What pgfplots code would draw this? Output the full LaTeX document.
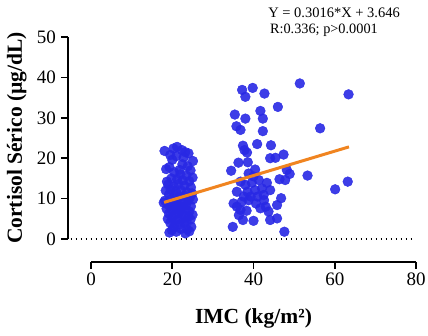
\documentclass[border=0pt]{standalone}
\usepackage{pgfplots}
\pgfplotsset{compat=1.18}
\usepackage{fontspec}
\setmainfont{Liberation Serif}
\definecolor{dotblue}{RGB}{40,40,228}
\definecolor{lineorange}{RGB}{240,132,32}
\begin{document}
\begin{tikzpicture}
\begin{axis}[
  name=main,
  at={(0,0)}, anchor=south west,
  set layers,
  scale only axis, width=348pt, height=202pt,
  xmin=-5.66, xmax=80, ymin=0, ymax=50,
  axis y line=left, axis x line=none,
  axis line style={line width=1.6pt,-},
  ytick={0,10,20,30,40,50},
  tick style={line width=1.6pt,black},
  major tick length=7pt, tick align=outside,
  yticklabel style={font=\fontsize{19}{19}\selectfont, xshift=-1.5pt},
  /pgf/number format/assume math mode=true,
  ylabel={\textbf{Cortisol Sérico (µg/dL)}},
  every axis y label/.style={at={(axis description cs:-0.147,0.5)}, rotate=90, anchor=center, font=\fontsize{21.5}{22}\selectfont},
  clip=false,
]
\addplot[black, line width=1.3pt, dash pattern=on 1.3pt off 3.7pt] coordinates {(-5.0,0) (79,0)};
\addplot[only marks, mark=*, mark size=4.9pt, color=dotblue, mark options={draw=dotblue, fill=dotblue, fill opacity=0.9, draw opacity=0.9}] coordinates {
(18.1,21.8) (20.3,22.4) (21.2,22.8) (22.4,22.0) (23.2,21.5) (24.0,21.2) (19.5,20.8) (21.0,20.5) (22.8,20.2) (25.1,19.3)
(20.0,19.6) (22.5,18.5) (23.8,18.0) (18.5,17.3) (19.3,17.8) (21.8,17.1) (24.5,17.0) (20.5,16.5) (22.0,16.0) (23.5,15.7)
(18.7,14.2) (19.8,15.0) (21.2,14.8) (22.6,14.5) (24.2,14.3) (25.0,15.2) (19.0,13.5) (20.4,13.0) (21.5,13.6) (23.0,13.2)
(24.6,12.8) (18.4,12.0) (19.6,12.2) (20.9,11.8) (22.2,12.0) (23.6,11.6) (24.9,11.3) (19.2,11.0) (20.6,10.8) (21.8,10.5)
(23.1,10.7) (24.3,10.2) (18.2,9.5) (19.5,9.8) (20.3,9.3) (21.4,9.6) (22.7,9.2) (23.9,9.5) (25.1,9.8) (17.9,9.0)
(19.0,8.5) (20.1,8.2) (21.1,8.7) (22.3,8.0) (23.4,8.4) (24.6,8.1) (18.6,7.5) (19.8,7.2) (21.0,7.4) (22.0,7.0)
(23.2,7.3) (24.2,6.8) (19.2,6.3) (20.5,6.0) (21.6,6.4) (22.8,5.9) (24.0,5.6) (25.0,6.0) (18.9,5.0) (20.0,5.2)
(21.3,4.8) (22.4,5.0) (23.5,4.5) (24.5,4.8) (19.5,4.0) (20.6,3.8) (21.8,3.6) (23.0,3.9) (24.7,3.0) (20.3,2.8)
(22.2,2.5) (23.7,2.4) (19.9,2.2) (21.0,1.8) (23.2,1.4) (24.2,1.9) (19.3,1.6)
(37.2,36.9) (38.0,35.2) (39.8,37.4) (42.7,36.0) (35.4,30.8) (35.8,27.9) (36.8,27.0) (38.0,29.8) (41.7,31.7) (42.3,29.8)
(42.3,26.7) (46.0,32.7) (37.4,23.1) (37.8,22.0) (38.4,21.4) (40.9,23.5) (44.3,23.2) (36.3,18.9) (38.6,19.0) (44.1,20.0)
(45.4,20.1) (47.4,20.9) (34.5,16.9) (38.8,16.2) (40.4,17.2) (48.2,17.1) (48.9,16.1) (47.8,14.6) (46.4,14.8) (53.3,15.7)
(51.4,38.5) (56.4,27.4) (63.4,35.8) (63.2,14.2) (60.1,12.3)
(35.1,8.8) (35.9,8.0) (36.8,7.2) (38.3,7.0) (36.4,5.9) (37.4,4.7) (40.0,4.5) (34.9,3.0) (44.1,4.7) (45.8,5.1)
(47.6,1.8) (45.8,8.4) (46.8,10.1) (43.0,8.0) (42.6,9.6) (40.6,8.8) (41.0,10.5) (39.3,10.5) (38.5,11.7) (40.4,12.1)
(42.1,12.5) (43.3,13.9) (44.1,12.1) (36.8,14.2) (38.0,13.4) (39.6,13.9) (41.3,14.6) (37.6,10.5) (35.9,11.7) (42.5,10.9)
(37.1,9.2) (41.7,7.6) (43.7,6.8) (38.8,9.6) (40.0,15.5)
};
\addplot[lineorange, line width=3pt, on layer=axis foreground] coordinates {(18,9.07) (63.5,22.8)};
\node[anchor=west, font=\fontsize{14.5}{14.5}\selectfont, inner sep=0pt] at (rel axis cs:0.575,1.119) {Y = 0.3016*X + 3.646};
\node[anchor=west, font=\fontsize{14.3}{14.3}\selectfont, inner sep=0pt] at (rel axis cs:0.58,1.035) {R:0.336; p>0.0001};
\end{axis}
\begin{axis}[
  at={(23pt,-23pt)}, anchor=south west,
  scale only axis, width=325pt, height=1pt,
  xmin=0, xmax=80, ymin=0, ymax=1,
  axis x line=bottom, axis y line=none,
  axis line style={line width=1.6pt,-},
  xtick={0,20,40,60,80},
  tick style={line width=1.6pt,black},
  major tick length=7pt, tick align=outside,
  xticklabel style={font=\fontsize{19}{19}\selectfont},
  /pgf/number format/assume math mode=true,
  xlabel={\textbf{IMC (kg/m²)}},
  every axis x label/.style={at={(axis description cs:0.5,0)}, anchor=center, yshift=-56pt, font=\fontsize{21.5}{22}\selectfont},
]
\addplot[draw=none] coordinates {(0,0) (80,0)};
\end{axis}
\pgfresetboundingbox
\path[use as bounding box] (-68pt,-96pt) rectangle (360pt,239pt);
\end{tikzpicture}
\end{document}
